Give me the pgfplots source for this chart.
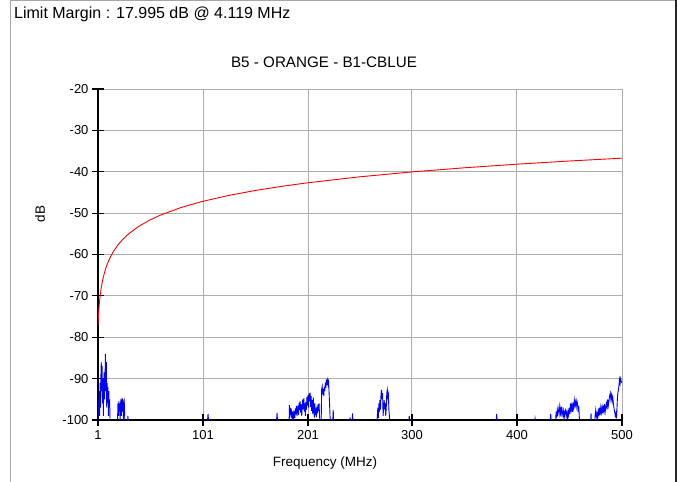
\documentclass[border=0pt]{standalone}
\usepackage{fontspec}
\setmainfont{Liberation Sans}
\usepackage{pgfplots}
\pgfplotsset{compat=1.18}

\begin{document}
\begin{tikzpicture}[x=1pt,y=1pt]
\useasboundingbox (0,0) rectangle (683,482);
% outer frame
\draw[gray!70, line width=1pt] (10.5,0) -- (10.5,481.5) -- (676,481.5);
\draw[black!85, line width=1.2pt] (676,481.5) -- (676,0);
\node[anchor=west, font=\fontsize{16}{18}\selectfont, inner sep=0pt] at (14,468) {Limit Margin : 17.995 dB @ 4.119 MHz};
\node[font=\fontsize{15.2}{18}\selectfont] at (324,420) {B5 - ORANGE - B1-CBLUE};
\node[rotate=90, font=\fontsize{13.5}{16}\selectfont] at (40,268) {dB};
\node[font=\fontsize{13.5}{16}\selectfont] at (325,19) {Frequency (MHz)};

\begin{axis}[
    at={(98pt,62pt)}, anchor=south west,
    scale only axis, width=524pt, height=331pt,
    xmin=1, xmax=500, ymin=-100, ymax=-20,
    xtick={1,101,201,300,400,500},
    ytick={-100,-90,...,-20},
    axis x line*=bottom, axis y line*=left,
    axis line style={black, line width=1.3pt},
    grid=major,
    major grid style={gray!65, line width=1pt},
    tick align=center, major tick length=12pt,
    tick style={black, line width=1.2pt},
    tick label style={font=\fontsize{13}{15}\selectfont},
    /pgf/number format/assume math mode=true,
    yticklabel style={xshift=0pt},
    xticklabel style={yshift=-1pt},
    clip=true,
]
% limit line
\addplot[red, line width=0.9pt] table {
1 -77.20
1.2 -76.01
1.5 -74.56
2 -72.69
2.5 -71.23
3 -70.04
4 -68.17
5 -66.72
6 -65.53
8 -63.65
10 -62.20
13 -60.49
16 -59.14
20 -57.69
25 -56.23
30 -55.04
40 -53.17
50 -51.72
60 -50.53
80 -48.65
100 -47.20
125 -45.75
150 -44.56
175 -43.56
200 -42.69
250 -41.23
300 -40.04
350 -39.04
400 -38.17
450 -37.40
500 -36.72
};
% measured emission
\addplot[blue, line width=0.9pt] table {
1 -101
1.6 -96
2.2 -93
2.6 -99
3 -91
3.4 -97
3.8 -89
4.119 -86
4.5 -93
4.9 -87
5.3 -96
5.7 -90
6.1 -99
6.5 -92
6.9 -88.5
7.3 -95
7.7 -90
8.1 -84
8.5 -93
8.9 -86
9.3 -97
9.7 -91
10.1 -96
10.5 -92
10.9 -99
11.3 -93
11.7 -97
12.1 -95
12.5 -101
19.5 -101
20 -96
20.4 -99
20.8 -95.5
21.2 -98
21.6 -96
22 -100
22.4 -96.5
22.8 -95
23.2 -99
23.6 -96
24 -94.7
24.4 -98
24.8 -95
25.2 -100
25.6 -96
26 -95.5
26.4 -99
26.8 -101
29 -101
29.5 -99
30 -101
105 -101
105.8 -98.5
106.5 -101
170.8 -101
171.5 -98.3
172.2 -101
183.0 -101
183.2 -96.4
183.6 -99.5
184.0 -97.0
184.5 -98.8
185.0 -97.2
185.5 -99.6
186.0 -98.0
186.5 -101
187.0 -98.5
187.5 -99.3
188.0 -97.8
188.5 -99.5
189.0 -97.2
189.5 -98.6
190.0 -96.6
190.5 -99.0
191.0 -97.5
191.5 -96.5
192.0 -98.8
192.5 -95.8
193.0 -97.6
193.5 -95.5
194.0 -98.2
194.5 -96.2
195.0 -99.0
195.5 -96.8
196.0 -95.0
196.5 -97.4
197.0 -94.8
197.5 -98.0
198.0 -96.0
198.5 -99.0
199.0 -95.6
199.5 -97.5
200.0 -94.4
200.5 -96.5
201.0 -94.0
201.5 -97.0
202.0 -93.6
202.5 -95.5
203.0 -93.4
203.5 -96.8
204.0 -94.2
204.5 -97.8
205.0 -95.2
205.5 -98.6
206.0 -94.6
206.5 -97.2
207.0 -99.4
207.5 -96.0
208.0 -98.8
208.5 -97.0
209.0 -99.3
209.5 -97.5
210.0 -98.4
210.5 -96.2
211.0 -97.8
211.5 -96.0
212.0 -99.0
212.5 -101
213.5 -101
214.0 -92.6
214.5 -91.9
215.0 -93.8
215.5 -92.4
216.0 -94.2
216.5 -92.0
217.0 -93.0
217.5 -91.0
218.0 -92.2
218.5 -90.2
219.0 -91.6
219.5 -90.4
220.0 -91.2
220.5 -90.2
221.0 -93.0
221.5 -96.0
222.0 -99.2
222.5 -101
224.5 -101
225.0 -97.6
225.5 -101
240.5 -101
241 -99.4
241.6 -101
242.8 -101
243.4 -98.4
244 -101
266.5 -101
267.0 -99.0
267.5 -97.0
268.0 -99.5
268.5 -96.0
269.0 -98.0
269.5 -95.2
270.0 -97.5
270.5 -93.8
271.0 -92.7
271.5 -95.0
272.0 -93.5
272.5 -99.0
273.0 -97.0
273.5 -95.2
274.0 -96.8
274.5 -96.0
275.0 -99.0
275.5 -97.0
276.0 -93.5
276.5 -92.7
277.0 -94.5
277.5 -93.8
278.0 -97.5
278.5 -99.0
279.0 -101
296.8 -101
297.4 -99
298 -101
380 -101
380.6 -98.5
381.2 -101
416.5 -101
417.2 -99.6
418 -101
431.5 -101
432.1 -98.5
432.8 -101
436.8 -101
437.2 -98.0
437.8 -99.4
438.4 -97.5
439.0 -98.6
439.6 -97.8
440.2 -96.6
440.8 -98.5
441.4 -97.4
442.0 -99.2
442.6 -96.8
443.2 -98.0
443.8 -99.0
444.4 -97.8
445.0 -99.4
445.6 -98.0
446.2 -97.6
446.8 -99.0
447.4 -98.2
448.0 -99.5
448.6 -98.0
449.2 -99.0
449.8 -97.0
450.4 -98.5
451.0 -96.0
451.6 -97.5
452.2 -96.4
452.8 -98.0
453.4 -95.8
454.0 -97.0
454.6 -95.2
455.2 -96.5
455.8 -95.6
456.4 -96.8
457.0 -95.3
457.6 -96.0
458.2 -98.0
458.8 -96.6
459.4 -99.5
460.0 -101
470.0 -101
470.5 -98.4
471.0 -101
474.0 -101
474.4 -99.0
475.0 -97.6
475.6 -99.2
476.2 -98.5
476.8 -99.6
477.4 -97.8
478.0 -98.6
478.6 -97.0
479.2 -98.8
479.8 -97.0
480.4 -98.2
481.0 -96.8
481.6 -98.4
482.2 -96.5
482.8 -97.8
483.4 -96.2
484.0 -98.0
484.6 -96.8
485.2 -96.0
485.8 -97.4
486.4 -95.0
487.0 -96.5
487.6 -95.4
488.2 -94.2
488.8 -93.5
489.4 -95.0
490.0 -94.0
490.6 -95.5
491.2 -94.5
491.8 -96.0
492.4 -97.2
493.0 -98.0
493.6 -99.0
494.2 -98.4
494.8 -99.6
495.4 -96.0
495.8 -94.0
496.4 -93.0
496.8 -92.3
497.2 -91.5
497.6 -90.2
498.2 -91.2
498.8 -90.0
499.4 -90.8
500.0 -91.0
};
\end{axis}
\end{tikzpicture}
\end{document}
